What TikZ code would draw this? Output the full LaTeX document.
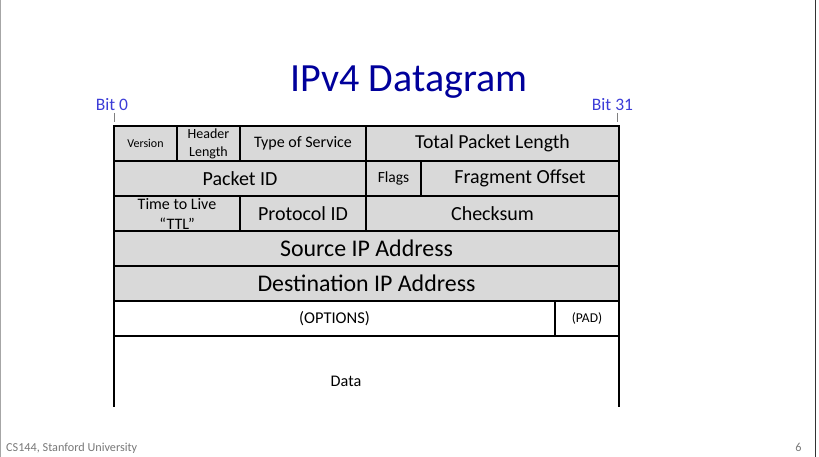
\documentclass[tikz,border=0pt]{standalone}
\usepackage{fontspec}
\setmainfont{Carlito}
\usepackage{tikz}
\usetikzlibrary{positioning}

\definecolor{titleblue}{RGB}{0,0,155}
\definecolor{bitblue}{RGB}{60,60,215}
\definecolor{cellgray}{RGB}{217,217,217}
\definecolor{footgray}{RGB}{120,120,120}
\newcommand{\fsz}[1]{\fontsize{#1}{#1}\selectfont}

\begin{document}
\begin{tikzpicture}[x=1pt, y=-1pt,
  cell/.style={draw=black, fill=cellgray, line width=1.3pt, inner sep=0pt,
    outer sep=0pt, minimum height=35pt, align=center},
  blank/.style={cell, fill=white},
  bitlbl/.style={text=bitblue, font=\fsz{17.5}, anchor=base, inner sep=0pt},
  tick/.style={draw=gray, line width=0.8pt}]
\useasboundingbox (0,0) rectangle (819,457);
% Slide edges
\draw[gray!70, line width=1pt] (0.5,0) -- (0.5,457);
\draw[black!80, line width=1.2pt] (815.5,0) -- (815.5,457);
% Title
\node[text=titleblue, font=\fsz{40}, anchor=base, inner sep=0pt] (title) at (409,91.5) {IPv4 Datagram};
% Bit markers
\node[bitlbl] (bit0) at (112,110.5) {Bit 0};
\node[bitlbl] (bit31) at (612.5,110.5) {Bit 31};
\draw[tick] (114,113) -- (114,122);
\draw[tick] (617.5,113) -- (617.5,122);
% Row 1
\node[cell, minimum width=63pt, anchor=north west, font=\fsz{12}] (ver) at (114,126) {Version};
\node[cell, minimum width=63pt, right=0pt of ver, font=\fsz{14}] (hlen) {Header\\[4pt]Length};
\node[cell, minimum width=126pt, right=0pt of hlen, font=\fsz{16}] (tos) {Type of Service};
\node[cell, minimum width=253pt, right=0pt of tos, font=\fsz{19.8}] (tlen) {Total Packet Length};
% Row 2
\node[cell, minimum width=252pt, anchor=north west, font=\fsz{20}] (pid) at (ver.south west) {Packet ID};
\node[cell, minimum width=55pt, right=0pt of pid, font=\fsz{15.5}] (flags) {Flags};
\node[cell, minimum width=198pt, right=0pt of flags, font=\fsz{20}] (foff) {Fragment Offset};
% Row 3
\node[cell, minimum width=126pt, anchor=north west, font=\fsz{16}] (ttl) at (pid.south west) {Time to Live\\[4pt]“TTL”};
\node[cell, minimum width=126pt, right=0pt of ttl, font=\fsz{20}] (proto) {Protocol ID};
\node[cell, minimum width=253pt, right=0pt of proto, font=\fsz{20}] (csum) {Checksum};
% Rows 4 and 5
\node[cell, minimum width=505pt, anchor=north west, font=\fsz{23.9}] (src) at (ttl.south west) {Source IP Address};
\node[cell, minimum width=505pt, anchor=north west, font=\fsz{23.9}] (dst) at (src.south west) {Destination IP Address};
% Row 6 (white)
\node[blank, minimum width=441pt, anchor=north west, font=\fsz{16.5}] (opts) at (dst.south west) {(OPTIONS)};
\node[blank, minimum width=64pt, right=0pt of opts, font=\fsz{13.5}] (pad) {(PAD)};
% Data, open at the bottom
\draw[line width=1.3pt] (opts.south west) -- (opts.south west |- 0,407);
\draw[line width=1.3pt] (pad.south east) -- (pad.south east |- 0,407);
\node[font=\fsz{16.2}, anchor=base, inner sep=0pt] (data) at (346,386) {Data};
% Footer
\node[text=footgray, font=\fsz{12.2}, anchor=base west, inner sep=0pt] (foot) at (6,451) {CS144, Stanford University};
\node[text=footgray, font=\fsz{12.2}, anchor=base, inner sep=0pt] (pageno) at (798.5,451.5) {6};
\end{tikzpicture}
\end{document}
